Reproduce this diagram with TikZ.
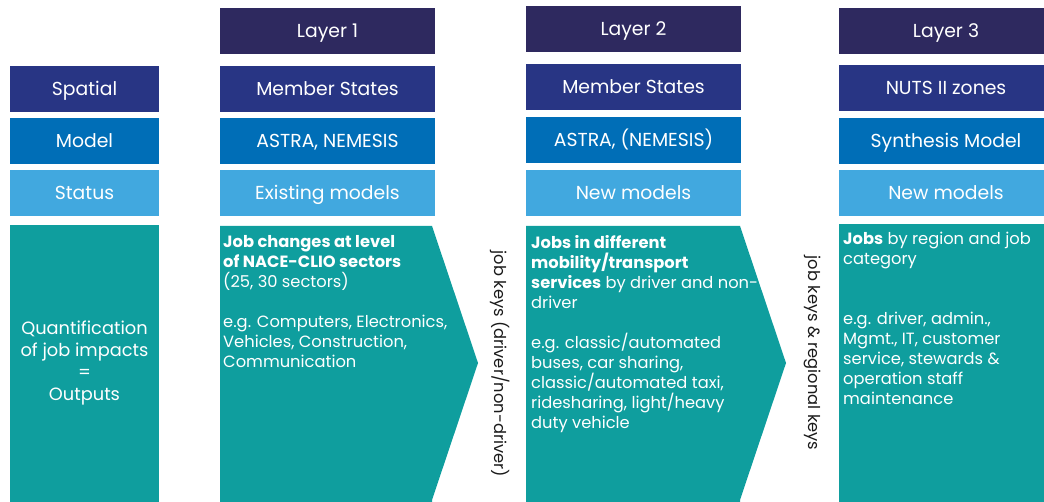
\documentclass[tikz,border=0pt]{standalone}
\usepackage{fontspec}
\setmainfont{Poppins}
\definecolor{hdr}{HTML}{2E295F}
\definecolor{spat}{HTML}{283584}
\definecolor{modl}{HTML}{006EB7}
\definecolor{stat}{HTML}{41A8DF}
\definecolor{teal}{HTML}{0F9E9E}
\definecolor{keytxt}{HTML}{1A1A1A}
\begin{document}
\begin{tikzpicture}[x=1pt,y=-1pt,
  cell/.style={inner sep=0pt, minimum height=46pt, text=white,
    text height=13pt, text depth=0pt,
    font=\fontsize{18.8}{22}\selectfont},
  lcell/.style={cell, minimum width=149pt},
  wcell/.style={cell, minimum width=215pt},
  body/.style={anchor=north west, align=left, inner sep=0pt, text=white,
    font=\fontsize{16.3}{20}\selectfont},
  keys/.style={rotate=-90, text=keytxt, inner sep=0pt,
    font=\fontsize{16.3}{18}\selectfont},
  shapefill/.style={fill=teal, draw=none}]
\useasboundingbox (0,0) rectangle (1044,502);
\clip (0,0) rectangle (1044,502);

% left labels
\node[lcell, fill=spat] (spl) at (84.5,89) {Spatial};
\node[lcell, fill=modl] (mol) at (84.5,141) {Model};
\node[lcell, fill=stat] (stl) at (84.5,193.5) {Status};
\fill[teal] (10,225) rectangle (159,502);
\node[text=white, align=center, inner sep=0pt, font=\fontsize{17.8}{21.7}\selectfont]
  (outl) at (84.5,363) {Quantification\\of job impacts\\=\\Outputs};

% Layer 1
\node[wcell, fill=hdr] (h1) at (327.5,31.5) {Layer 1};
\node[wcell, fill=spat] (s1) at (327.5,89) {Member States};
\node[wcell, fill=modl] (m1) at (327.5,141) {ASTRA, NEMESIS};
\node[wcell, fill=stat] (t1) at (327.5,193.5) {Existing models};
\fill[teal] (220,226) -- (432,226) -- (478,363) -- (432,500) -- (432,502) -- (220,502) -- cycle;
\node[body] (b1) at (223,235) {\textbf{Job changes at level}\\\textbf{of NACE-CLIO sectors}\\(25, 30 sectors)\\[20pt]e.g. Computers, Electronics,\\Vehicles, Construction,\\Communication};

% Layer 2
\node[wcell, fill=hdr] (h2) at (633.5,29.5) {Layer 2};
\node[wcell, fill=spat] (s2) at (633.5,87) {Member States};
\node[wcell, fill=modl] (m2) at (633.5,140) {ASTRA, (NEMESIS)};
\node[wcell, fill=stat] (t2) at (633.5,193) {New models};
\fill[teal] (526,226) -- (740,226) -- (786,363) -- (740,500) -- (740,502) -- (526,502) -- cycle;
\node[body] (b2) at (531,235) {\textbf{Jobs in different}\\\textbf{mobility/transport}\\\textbf{services} by driver and non-\\driver\\[20pt]e.g. classic/automated\\buses, car sharing,\\classic/automated taxi,\\ridesharing, light/heavy\\duty vehicle};

% Layer 3
\node[wcell, fill=hdr] (h3) at (946,31) {Layer 3};
\node[wcell, fill=spat] (s3) at (946,88) {NUTS II zones};
\node[wcell, fill=modl] (m3) at (946,141) {Synthesis Model};
\node[wcell, fill=stat] (t3) at (946,193) {New models};
\fill[teal] (839,224) rectangle (1050,502);
\node[body] (b3) at (843,232) {\textbf{Jobs} by region and job\\category\\[40pt]e.g. driver, admin.,\\Mgmt., IT, customer\\service, stewards \&\\operation staff\\maintenance};

% keys
\node[keys] (k1) at (500,364) {job keys (driver/non-driver)};
\node[keys] (k2) at (812,353) {job keys \& regional keys};
\end{tikzpicture}
\end{document}
